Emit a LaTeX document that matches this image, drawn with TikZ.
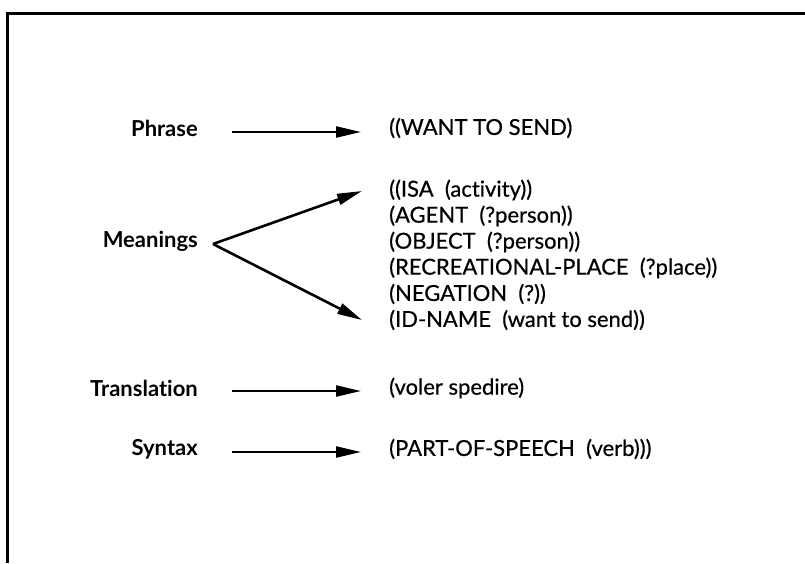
\documentclass[tikz,border=0pt]{standalone}
\usepackage{fontspec}
\setmainfont{Lato}[Ligatures=NoCommon]
\newfontfamily\valfont{Lato}[Ligatures=NoCommon,FakeBold=0.5]
\usetikzlibrary{arrows.meta}
\begin{document}
\begin{tikzpicture}[x=1pt,y=-1pt,
  lbl/.style={anchor=east,inner sep=0pt,font=\fontsize{22}{26}\selectfont\bfseries},
  val/.style={anchor=west,inner sep=0pt,font=\fontsize{22}{26}\selectfont\valfont},
  arr/.style={line width=2.2pt,-{Triangle[length=25pt,width=11pt]}},
  frame/.style={line width=3pt}]
\useasboundingbox (0,0) rectangle (805,563);
% open frame: top rule and left rule only
\draw[frame] (7,563) -- (7,13) -- (805,13);

% left-hand labels
\node[lbl] (phrase) at (198,128) {Phrase};
\node[lbl] (meanings) at (198,241) {Meanings};
\node[lbl] (transl) at (198,388) {Translation};
\node[lbl] (syntax) at (198,449) {Syntax};

% right-hand values
\node[val] (vphrase) at (389,128) {((WANT TO SEND)};
\node[val] (m1) at (389,190) {((ISA\ \ (activity))};
\node[val] (m2) at (389,216) {(AGENT\ \ (?person))};
\node[val] (m3) at (389,242) {(OBJECT\ \ (?person))};
\node[val] (m4) at (389,268) {(RECREATIONAL-PLACE\ \ (?place))};
\node[val] (m5) at (389,294) {(NEGATION\ \ (?))};
\node[val] (m6) at (389,320) {(ID-NAME\ \ (want to send))};
\node[val] (vtransl) at (389,388) {(voler spedire)};
\node[val] (vsyntax) at (389,449) {(PART-OF-SPEECH\ \ (verb)))};

% connectors
\draw[arr] ([xshift=34pt,yshift=-4pt]phrase.east) -- ([xshift=-28pt,yshift=-4pt]vphrase.west);
\coordinate (apex) at ([xshift=15pt,yshift=-3pt]meanings.east);
\draw[arr,line width=2.6pt] (apex) -- ([xshift=-27pt,yshift=-1pt]m1.west);
\draw[arr,line width=2.6pt] (apex) -- ([xshift=-27pt]m6.west);
\draw[arr] ([xshift=34pt,yshift=-3pt]transl.east) -- ([xshift=-28pt,yshift=-3pt]vtransl.west);
\draw[arr] ([xshift=34pt,yshift=-3pt]syntax.east) -- ([xshift=-28pt,yshift=-3pt]vsyntax.west);
\end{tikzpicture}
\end{document}
